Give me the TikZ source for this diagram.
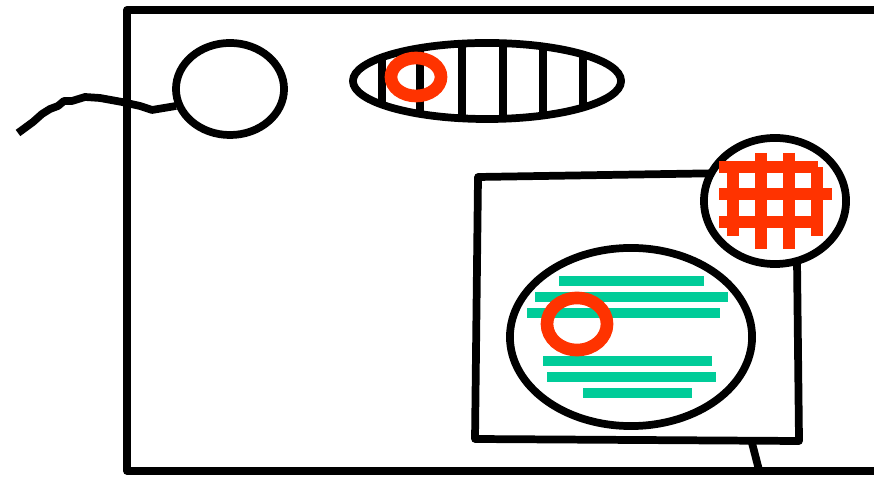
\documentclass[tikz,border=0pt]{standalone}
\usepackage{tikz}
\usepackage{xcolor}
\usetikzlibrary{positioning}
\definecolor{Sketch_Red}{HTML}{FF3300}
\definecolor{Sketch_Teal}{HTML}{00CC99}

\begin{document}
\begin{tikzpicture}[
  x=0.01cm, y=-0.01cm,
  outline/.style={draw=black, line width=2.2pt, line join=round},
  redring/.style={draw=Sketch_Red, line width=3.6pt},
  redbar/.style={draw=Sketch_Red, line width=3.5pt},
  tealbar/.style={draw=Sketch_Teal, line width=2.6pt},
]
\useasboundingbox (0,0) rectangle (874,477);
\clip (0,0) rectangle (874,477);

% --- frame and cable ---
\draw[outline] (890,10) -- (127,10) -- (127,471) -- (890,471);
\coordinate (plug) at (176,106);
\draw[outline] (18,133) -- (33,122) -- (42,114) -- (50,109) -- (58,106)
  -- (64,101) -- (72,101) -- (85,97) -- (100,98) -- (122,102)
  -- (140,106) -- (152,110) -- (plug);

% --- small lens ---
\coordinate (lens) at (230,89);
\draw[outline] (lens) ellipse [x radius=0.54cm, y radius=0.46cm];

% --- striped ellipse ---
\coordinate (stripe) at (487,81);
\begin{scope}
  \clip (stripe) ellipse [x radius=1.34cm, y radius=0.38cm];
  \foreach \xx in {382,420,462,503,543,583}
  {
    \draw[outline] (\xx,30) -- (\xx,130);
  }
\end{scope}
\draw[outline] (stripe) ellipse [x radius=1.34cm, y radius=0.38cm];
\draw[redring] (416,77) ellipse [x radius=0.25cm, y radius=0.19cm];

% --- panel with stand ---
\draw[outline] (478,177) -- (796,172) -- (799,441) -- (475,439) -- cycle;
\draw[outline] (752,443) -- (760,474);

% --- big ellipse with lines ---
\coordinate (blob) at (631,337);
\draw[outline] (blob) ellipse [x radius=1.21cm, y radius=0.89cm];
\foreach \ya/\xa/\xb in {281/559/704, 297/535/728, 313/527/720,
                         361/543/712, 377/547/716, 393/583/692}
{
  \draw[tealbar] (\xa,\ya) -- (\xb,\ya);
}
\draw[redring] (577,324) ellipse [x radius=0.30cm, y radius=0.26cm];

% --- round badge with grid ---
\coordinate (badge) at (775,201);
\draw[outline, fill=white] (badge) ellipse [x radius=0.71cm, y radius=0.63cm];
\foreach \ya/\xa/\xb in {167/719/818, 194/719/832, 222/719/823}
{
  \draw[redbar] (\xa,\ya) -- (\xb,\ya);
}
\foreach \xa/\ya/\yb in {733/162/236, 761/153/249, 789/153/249, 817/167/236}
{
  \draw[redbar] (\xa,\ya) -- (\xa,\yb);
}

\end{tikzpicture}
\end{document}
